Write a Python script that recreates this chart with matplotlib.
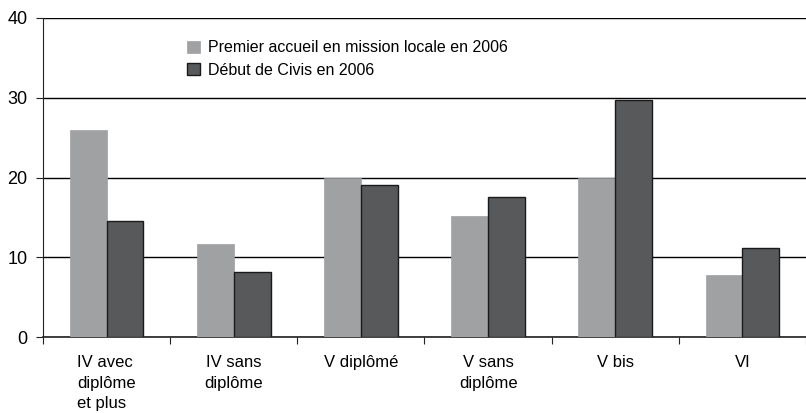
import matplotlib.pyplot as plt
import numpy as np
from matplotlib import font_manager

categories = ["IV avec\ndiplôme\net plus", "IV sans\ndiplôme", "V diplômé",
              "V sans\ndiplôme", "V bis", "VI"]
premier_accueil = [25.9, 11.7, 20.0, 15.2, 20.0, 7.8]
debut_civis = [14.6, 8.2, 19.1, 17.5, 29.7, 11.1]
series_labels = ["Premier accueil en mission locale en 2006", "Début de Civis en 2006"]
y_ticks = [0, 10, 20, 30, 40]

names = {f.name for f in font_manager.fontManager.ttflist}
family = "Liberation Sans Narrow" if "Liberation Sans Narrow" in names else "Liberation Sans"
plt.rcParams["font.family"] = [family, "DejaVu Sans"]

W, H = 806, 413
fig = plt.figure(figsize=(W / 100, H / 100), dpi=100)
left, right, top, bottom = 43, 806, 18, 337
ax = fig.add_axes([left / W, 1 - bottom / H, (right - left) / W, (bottom - top) / H])

step = 128.5
x = np.arange(len(categories))
bw = 0.29
ax.bar(x - bw / 2, premier_accueil, bw, color="#a0a1a3", edgecolor="#a0a1a3",
       linewidth=0.5, label=series_labels[0], zorder=3)
ax.bar(x + bw / 2, debut_civis, bw, color="#58595b", edgecolor="#1a1a1a",
       linewidth=1.0, label=series_labels[1], zorder=3)

ax.set_ylim(0, 40)
ax.set_xlim(-0.5, -0.5 + (right - left) / step)
ax.set_yticks(y_ticks)
ax.yaxis.grid(True, color="black", linewidth=1.0, zorder=0)
ax.set_axisbelow(True)

for s in ["top", "right"]:
    ax.spines[s].set_visible(False)
ax.spines["left"].set_color("#222222")
ax.spines["bottom"].set_color("#222222")
ax.spines["bottom"].set_linewidth(1.2)

ax.set_xticks(np.arange(len(categories) + 1) - 0.5)
ax.set_xticklabels([])
ax.tick_params(axis="x", length=5, color="#222222")
ax.tick_params(axis="y", length=5, color="#222222", labelsize=13, pad=6)

for i, lab in enumerate(categories):
    ax.text(i, -2.3, lab, ha="center", va="top", fontsize=12,
            multialignment="left" if i == 0 else "center", linespacing=1.45)

ax.legend(loc="upper left", bbox_to_anchor=(0.17, 0.975), frameon=False,
          fontsize=11.5, handlelength=0.8, handleheight=0.8,
          handletextpad=0.5, labelspacing=0.45)

fig.savefig("out.png", dpi=100)
